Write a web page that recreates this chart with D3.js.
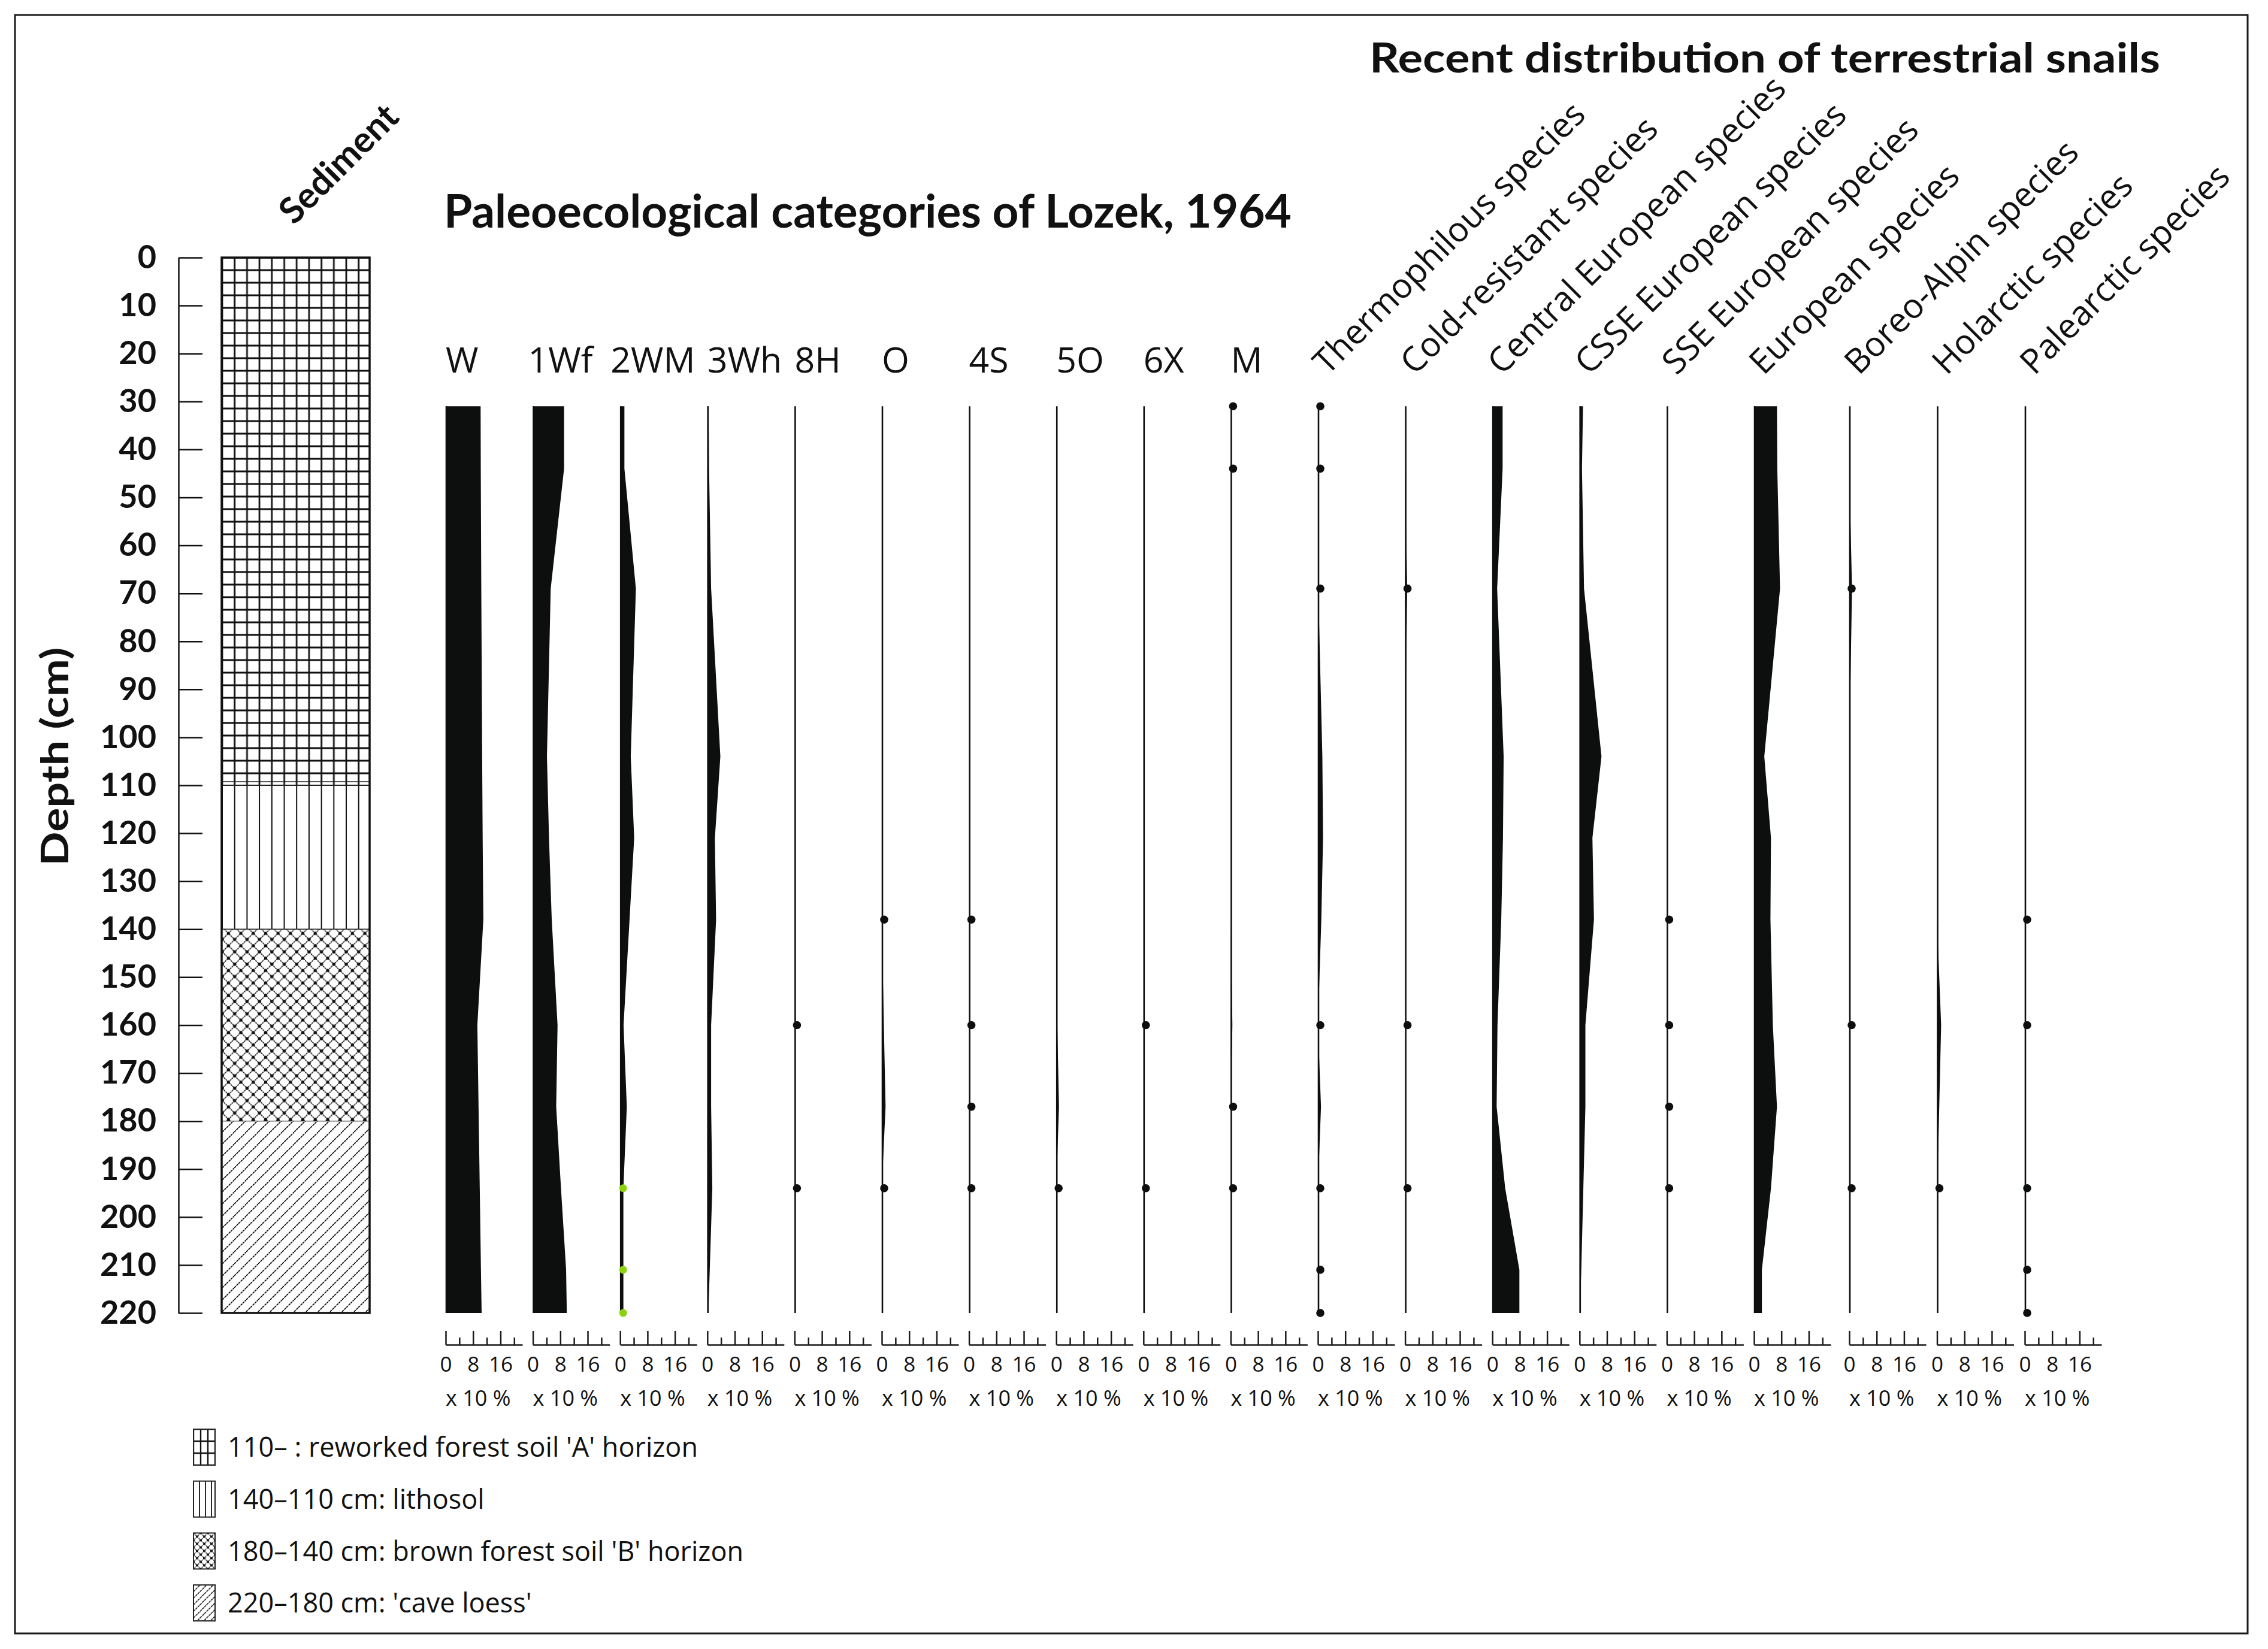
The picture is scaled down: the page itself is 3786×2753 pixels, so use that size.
<!DOCTYPE html>
<html><head><meta charset="utf-8">
<script src="https://cdn.jsdelivr.net/npm/d3@7"></script>
<style>
body{margin:0;background:#fff}
svg{display:block}
text{fill:#111}
</style>
</head><body>
<script>
// ---------------- DATA ----------------
const sampleDepths = [31, 44, 69, 104, 121, 138, 160, 177, 194, 211, 220];

const lozekCategories = ["W", "1Wf", "2WM", "3Wh", "8H", "O", "4S", "5O", "6X", "M"];
const distributionCategories = ["Thermophilous species", "Cold-resistant species", "Central European species",
  "CSSE European species", "SSE European species", "European species", "Boreo-Alpin species",
  "Holarctic species", "Palearctic species"];

// values in units of "x 10 %" at each sample depth
const valW          = [10.2, 10.25, 10.4, 10.65, 10.8, 11.0, 9.25, 9.6, 9.95, 10.3, 10.5];
const val1Wf        = [9.1, 9.1, 5.2, 4.1, 4.7, 5.5, 7.2, 6.8, 8.2, 9.7, 9.9];
const val2WM        = [1.25, 1.25, 4.6, 3.1, 4.1, 2.75, 1.0, 1.95, 0.95, 0.95, 0.95];
const val3Wh        = [0.35, 0.5, 1.1, 3.8, 2.2, 2.55, 1.1, 1.1, 1.45, 0.7, 0.3];
const val8H         = [0, 0, 0, 0, 0, 0, 0, 0, 0, 0, 0];
const valO          = [0, 0, 0, 0, 0, 0, 0.6, 1.1, 0, 0, 0];
const val4S         = [0, 0, 0, 0, 0, 0, 0, 0, 0, 0, 0];
const val5O         = [0, 0, 0, 0, 0, 0, 0.3, 0.8, 0, 0, 0];
const val6X         = [0, 0, 0, 0, 0, 0, 0, 0, 0, 0, 0];
const valM          = [0, 0, 0, 0, 0, 0, 0.5, 0, 0, 0, 0];
const valThermo     = [0, 0, 0.1, 1.3, 1.5, 1.0, 0, 0.9, 0, 0, 0];
const valCold       = [0, 0, 0.6, 0, 0, 0, 0, 0, 0, 0, 0];
const valCentral    = [3.0, 3.0, 1.4, 3.3, 3.1, 2.6, 1.5, 1.25, 3.75, 7.9, 7.9];
const valCSSE       = [1.0, 0.7, 1.3, 6.4, 3.75, 4.2, 1.7, 1.7, 1.1, 0.5, 0.1];
const valSSE        = [0, 0, 0, 0, 0, 0, 0, 0, 0, 0, 0];
const valEuropean   = [6.7, 6.8, 7.6, 3.0, 4.95, 4.8, 5.5, 6.7, 4.95, 2.3, 2.3];
const valBoreo      = [0, 0, 0.8, 0, 0, 0, 0, 0, 0, 0, 0];
const valHolarctic  = [0, 0, 0, 0, 0, 0, 1.2, 0.65, 0.1, 0, 0];
const valPalearctic = [0, 0, 0, 0, 0, 0, 0, 0, 0, 0, 0];

// depths where single finds (dots) are marked
const dotsW = [], dots1Wf = [], dots2WM = [], dots3Wh = [];
const dots8H = [160, 194];
const dotsO = [138, 194];
const dots4S = [138, 160, 177, 194];
const dots5O = [194];
const dots6X = [160, 194];
const dotsM = [31, 44, 177, 194];
const dotsThermo = [31, 44, 69, 160, 194, 211, 220];
const dotsCold = [69, 160, 194];
const dotsCentral = [], dotsCSSE = [];
const dotsSSE = [138, 160, 177, 194];
const dotsEuropean = [];
const dotsBoreo = [69, 160, 194];
const dotsHolarctic = [194];
const dotsPalearctic = [138, 160, 194, 211, 220];
const greenDots2WM = [194, 211, 220];

const depthTickValues = [0,10,20,30,40,50,60,70,80,90,100,110,120,130,140,150,160,170,180,190,200,210,220];
const scaleTickValues = [0, 4, 8, 12, 16, 20];
const scaleTickLabels = [0, 8, 16];
const unitLabel = "x 10 %";

const sedimentTop = [0, 110, 140, 180];
const sedimentBottom = [110, 140, 180, 220];
const sedimentLegend = ["110– : reworked forest soil 'A' horizon", "140–110 cm: lithosol",
  "180–140 cm: brown forest soil 'B' horizon", "220–180 cm: 'cave loess'"];

const titleLeft = "Paleoecological categories of Lozek, 1964";
const titleRight = "Recent distribution of terrestrial snails";

// ---------------- TABLE ----------------
const allLabels = lozekCategories.concat(distributionCategories);
const allValues = [valW, val1Wf, val2WM, val3Wh, val8H, valO, val4S, val5O, val6X, valM,
  valThermo, valCold, valCentral, valCSSE, valSSE, valEuropean, valBoreo, valHolarctic, valPalearctic];
const allDots = [dotsW, dots1Wf, dots2WM, dots3Wh, dots8H, dotsO, dots4S, dots5O, dots6X, dotsM,
  dotsThermo, dotsCold, dotsCentral, dotsCSSE, dotsSSE, dotsEuropean, dotsBoreo, dotsHolarctic, dotsPalearctic];

// ---------------- CHART ----------------
const FS = "'Open Sans', Lato, sans-serif";
const FB = "Lato, 'Open Sans', sans-serif";
const INK = "#0d0f0e";

const svg = d3.select("body").append("svg").attr("width", 3786).attr("height", 2753);
svg.append("rect").attr("width", 3786).attr("height", 2753).attr("fill", "#fff");
svg.append("rect").attr("x", 25).attr("y", 25).attr("width", 3727).attr("height", 2702)
  .attr("fill", "none").attr("stroke", "#1a1a1a").attr("stroke-width", 3);

const y = d3.scaleLinear().domain([0, 220]).range([430, 2192]);
const panelX = d3.scaleLinear().domain([0, 15, 16, 18]).range([744, 2928, 3087, 3380]);
const xUnit = d3.scaleLinear().domain([0, 22.4]).range([0, 128]);

// patterns
const defs = svg.append("defs");
function gridPattern(id, x0, y0, w, h, sw) {
  const p = defs.append("pattern").attr("id", id).attr("patternUnits", "userSpaceOnUse")
    .attr("x", x0).attr("y", y0).attr("width", w).attr("height", h);
  p.append("path").attr("d", `M0,0H${w}M0,0V${h}M0,${h}H${w}M${w},0V${h}`)
    .attr("stroke", "#111").attr("stroke-width", sw);
}
function vertPattern(id, x0, y0, w, sw) {
  const p = defs.append("pattern").attr("id", id).attr("patternUnits", "userSpaceOnUse")
    .attr("x", x0).attr("y", y0).attr("width", w).attr("height", 6);
  p.append("path").attr("d", `M0,0V6M${w},0V6`).attr("stroke", "#111").attr("stroke-width", sw);
}
function crossPattern(id, x0, y0, w, sw) {
  const p = defs.append("pattern").attr("id", id).attr("patternUnits", "userSpaceOnUse")
    .attr("x", x0).attr("y", y0).attr("width", w).attr("height", w);
  p.append("path").attr("d", `M0,0L${w},${w}M${w},0L0,${w}`).attr("stroke", "#111").attr("stroke-width", sw)
    .attr("stroke-dasharray", "3,1");
  [[w/2, w/2], [0, 0], [w, 0], [0, w], [w, w]].forEach(c =>
    p.append("circle").attr("cx", c[0]).attr("cy", c[1]).attr("r", sw * 1.6).attr("fill", "#111"));
}
function diagPattern(id, x0, y0, w, sw) {
  const p = defs.append("pattern").attr("id", id).attr("patternUnits", "userSpaceOnUse")
    .attr("x", x0).attr("y", y0).attr("width", w).attr("height", w);
  p.append("path").attr("d", `M0,${w}L${w},0M${-w/2},${w/2}L${w/2},${-w/2}M${w/2},${w*1.5}L${w*1.5},${w/2}`)
    .attr("stroke", "#111").attr("stroke-width", sw).attr("stroke-dasharray", "4,1");
}
gridPattern("pGrid", 371, 430, 20.7, 21, 2.8);
vertPattern("pVert", 371, 430, 20.7, 2.0);
crossPattern("pCross", 371, 430, 20.7, 1.7);
diagPattern("pDiag", 371, 430, 20, 1.8);
const layerPatterns = ["pGrid", "pVert", "pCross", "pDiag"];

// Sediment column
const colX = 370, colW = 247;
const col = svg.append("g");
sedimentTop.forEach((t, i) => {
  col.append("rect").attr("x", colX).attr("y", y(t)).attr("width", colW).attr("height", y(sedimentBottom[i]) - y(t))
    .attr("fill", `url(#${layerPatterns[i]})`);
  if (i > 0) col.append("line").attr("x1", colX).attr("x2", colX + colW).attr("y1", y(t)).attr("y2", y(t))
    .attr("stroke", "#222").attr("stroke-width", i === 1 ? 2 : 1.4);
});
col.append("line").attr("x1", colX).attr("x2", colX + colW).attr("y1", y(110) - 6).attr("y2", y(110) - 6)
  .attr("stroke", "#222").attr("stroke-width", 1.6);
col.append("rect").attr("x", colX).attr("y", y(0)).attr("width", colW).attr("height", y(220) - y(0))
  .attr("fill", "none").attr("stroke", "#111").attr("stroke-width", 3.5);

// Depth axis
const yAxis = d3.axisLeft(y).tickValues(depthTickValues).tickSizeInner(-40).tickSizeOuter(0).tickPadding(37);
const ya = svg.append("g").attr("transform", "translate(298,0)").call(yAxis);
ya.selectAll("path,line").attr("stroke", "#111").attr("stroke-width", 2.5);
ya.selectAll("text").attr("font-family", FB).attr("font-weight", 700).attr("font-size", 54).attr("fill", "#111");

svg.append("text").attr("transform", "translate(114,1263) rotate(-90)").attr("text-anchor", "middle")
  .attr("font-family", FB).attr("font-weight", 700).attr("font-size", 64)
  .attr("textLength", 365).attr("lengthAdjust", "spacingAndGlyphs").text("Depth (cm)");

svg.append("text").attr("transform", "translate(580,288) rotate(-45)").attr("text-anchor", "middle")
  .attr("font-family", FB).attr("font-weight", 700).attr("font-size", 60).text("Sediment");

// Titles
svg.append("text").attr("x", 741).attr("y", 380).attr("font-family", FB).attr("font-weight", 700)
  .attr("font-size", 76).attr("textLength", 1415).attr("lengthAdjust", "spacingAndGlyphs").text(titleLeft);
svg.append("text").attr("x", 2286).attr("y", 121).attr("font-family", FB).attr("font-weight", 700)
  .attr("font-size", 68).attr("textLength", 1320).attr("lengthAdjust", "spacingAndGlyphs").text(titleRight);

// Panels
const area = d3.area().y(d => y(d.depth)).x0(xUnit(0)).x1(d => xUnit(d.v));
allLabels.forEach((lab, i) => {
  const g = svg.append("g").attr("transform", `translate(${panelX(i)},0)`);
  const rows = sampleDepths.map((d, k) => ({depth: d, v: allValues[i][k]}));
  g.append("path").datum(rows).attr("d", area).attr("fill", INK);
  g.append("line").attr("x1", xUnit(0) + 1).attr("x2", xUnit(0) + 1)
    .attr("y1", y(sampleDepths[0])).attr("y2", y(sampleDepths[sampleDepths.length - 1]))
    .attr("stroke", INK).attr("stroke-width", 2.6);
  g.selectAll("circle.dot").data(allDots[i]).join("circle").attr("class", "dot")
    .attr("cx", xUnit(0) + 4).attr("cy", d => y(d)).attr("r", 6.8).attr("fill", INK);
  if (lab === "2WM") {
    g.selectAll("circle.green").data(greenDots2WM).join("circle").attr("class", "green")
      .attr("cx", xUnit(0) + 5).attr("cy", d => y(d)).attr("r", 6.5).attr("fill", "#8cd211");
  }
  // labels
  if (i < lozekCategories.length) {
    g.append("text").attr("x", lab === "2WM" ? -16 : (lab === "1Wf" ? -8 : 0)).attr("y", 622)
      .attr("font-family", FS).attr("font-size", 59).text(lab);
  } else {
    g.append("text").attr("transform", "translate(16,628) rotate(-45)")
      .attr("font-family", FS).attr("font-size", 57).text(lab);
  }
  // scale axis
  const ax = d3.axisBottom(xUnit).tickValues(scaleTickValues).tickSizeInner(-23).tickSizeOuter(0).tickPadding(20)
    .tickFormat(d => scaleTickLabels.includes(d) ? String(d) : "");
  const ag = g.append("g").attr("transform", "translate(0,2245)").call(ax);
  ag.selectAll("path,line").attr("stroke", "#1a1a1a").attr("stroke-width", 2.5);
  ag.selectAll(".tick").filter(d => !scaleTickLabels.includes(d)).select("line").attr("y2", -12);
  ag.selectAll("text").attr("font-family", FS).attr("font-size", 35).attr("fill", "#111");
  g.append("text").attr("x", 0).attr("y", 2347).attr("font-family", FS).attr("font-size", 36).text(unitLabel);
});

// Legend
const legendX = 323;
gridPattern("lGrid", legendX, 2386, 12, 20, 2.4);
sedimentLegend.forEach((t, i) => {
  const by = 2386 + i * 86.7;
  if (i === 1) vertPattern("lVert", legendX, by, 10, 1.8);
  if (i === 2) crossPattern("lCross", legendX, by, 12, 1.3);
  if (i === 3) diagPattern("lDiag", legendX, by, 11, 1.5);
});
const legendPatterns = ["lGrid", "lVert", "lCross", "lDiag"];
sedimentLegend.forEach((t, i) => {
  const by = 2386 + i * 86.7;
  svg.append("rect").attr("x", legendX).attr("y", by).attr("width", 36).attr("height", 60)
    .attr("fill", `url(#${legendPatterns[i]})`).attr("stroke", "#222").attr("stroke-width", 2);
  svg.append("text").attr("x", 380).attr("y", by + 30).attr("dy", "0.36em")
    .attr("font-family", FS).attr("font-size", 45).text(t);
});
</script>
</body></html>
